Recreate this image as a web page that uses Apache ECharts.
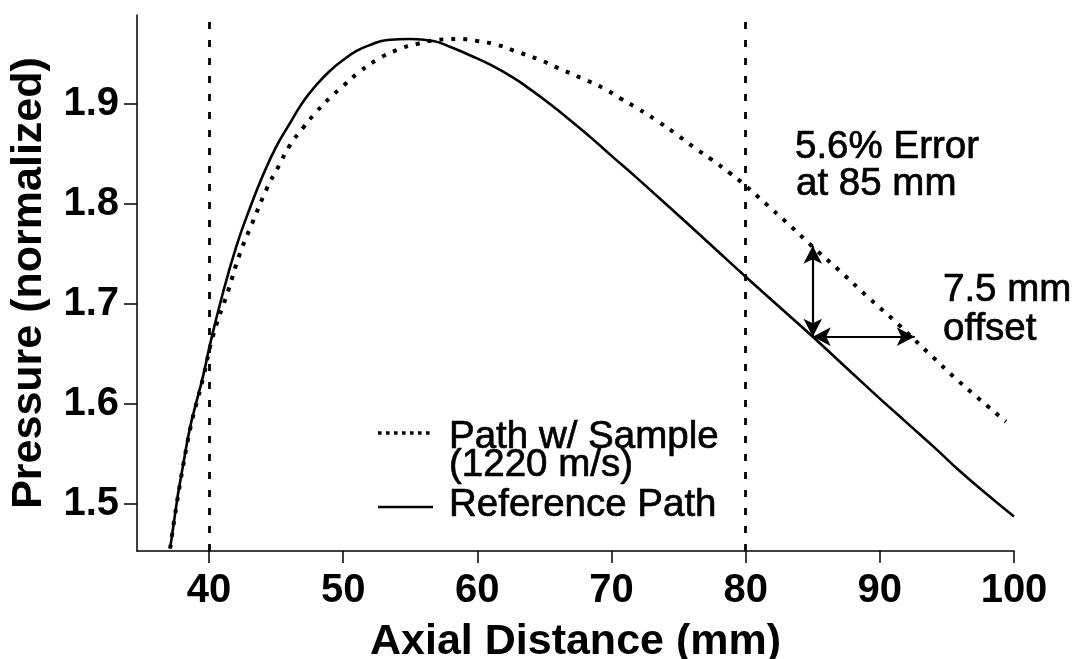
<!DOCTYPE html>
<html>
<head>
<meta charset="utf-8">
<title>Pressure vs Axial Distance</title>
<script src="https://cdn.jsdelivr.net/npm/echarts@6.0.0/dist/echarts.min.js"></script>
<style>
    html, body { margin: 0; padding: 0; background: #fff; }
    #chart { width: 1075px; height: 659px; }
</style>
</head>
<body>
<div id="chart"></div>
<script>
// axis ticks
var xTicks = [40, 50, 60, 70, 80, 90, 100]
var yTicks = [1.5, 1.6, 1.7, 1.8, 1.9]

// reference path (solid)
var refX = [37.1, 38.4, 39.6, 40.0, 40.9, 42.0, 43.0, 44.0, 45.0, 46.0, 47.0, 48.0, 49.0, 50.0, 51.0, 52.0, 53.3, 55.0, 56.7, 58.0, 59.4, 61.0, 62.7, 64.0, 65.4, 66.9, 68.4, 70.0, 71.8, 73.7, 75.6, 77.8, 80.0, 82.5, 85.0, 87.5, 90.0, 92.0, 94.0, 96.0, 98.0, 100.0]
var refY = [1.455, 1.564, 1.630, 1.655, 1.704, 1.756, 1.794, 1.828, 1.857, 1.880, 1.902, 1.919, 1.933, 1.944, 1.953, 1.959, 1.964, 1.965, 1.963, 1.957, 1.949, 1.939, 1.926, 1.914, 1.900, 1.884, 1.867, 1.848, 1.827, 1.804, 1.781, 1.754, 1.727, 1.697, 1.667, 1.636, 1.605, 1.581, 1.557, 1.532, 1.509, 1.487]

// path with sample, 1220 m/s (dotted)
var sampleX = [37.1, 38.4, 39.6, 40.3, 41.4, 42.3, 43.2, 44.3, 45.2, 46.0, 47.0, 48.0, 49.0, 50.0, 51.2, 52.5, 54.0, 55.5, 57.0, 58.5, 60.0, 61.5, 63.0, 64.5, 66.0, 67.9, 69.5, 70.6, 72.0, 73.3, 74.7, 76.1, 77.5, 78.8, 80.0, 81.5, 83.0, 85.0, 87.0, 89.0, 91.0, 92.5, 94.0, 95.5, 97.2, 99.4]
var sampleY = [1.455, 1.562, 1.628, 1.668, 1.712, 1.750, 1.780, 1.815, 1.838, 1.858, 1.876, 1.892, 1.906, 1.918, 1.932, 1.944, 1.954, 1.960, 1.964, 1.965, 1.963, 1.959, 1.952, 1.945, 1.936, 1.925, 1.915, 1.906, 1.895, 1.884, 1.871, 1.857, 1.844, 1.831, 1.818, 1.800, 1.782, 1.757, 1.733, 1.708, 1.684, 1.665, 1.646, 1.627, 1.607, 1.582]

// dashed markers and the 85 mm annotation
var markerX = [40, 80]
var errorAt = 85
var errorLow = 1.667
var errorHigh = 1.758
var offsetTo = 92.6

var font = '"Liberation Sans", Arial, Helvetica, sans-serif'

function pairs(xs, ys) {
    return xs.map(function(x, i) { return [x, ys[i]] })
}

function txt(str, x, y) {
    return {
        type: 'text',
        style: {
            text: str, x: x, y: y,
            font: '38.5px ' + font,
            fill: '#000',
            stroke: '#000',
            lineWidth: 0.7,
            textAlign: 'left',
            textVerticalAlign: 'middle'
        }
    }
}

var myChart = echarts.init(document.getElementById('chart'))

var option = {
    animation: false,
    backgroundColor: '#fff',
    grid: { left: 137, right: 61, top: 15, bottom: 108, outerBoundsMode: 'none' },
    xAxis: {
        type: 'value',
        min: 34.63,
        max: 100,
        name: 'Axial Distance (mm)',
        nameLocation: 'middle',
        nameGap: 70,
        nameTextStyle: { color: '#000', fontSize: 43, fontWeight: 'bold', fontFamily: font },
        splitLine: { show: false },
        axisLine: { lineStyle: { color: '#000', width: 1.5 } },
        axisTick: { customValues: xTicks, length: 12, lineStyle: { color: '#000', width: 1.5 } },
        axisLabel: {
            customValues: xTicks,
            margin: 20,
            color: '#000',
            fontSize: 40,
            fontWeight: 'bold',
            fontFamily: font
        }
    },
    yAxis: {
        type: 'value',
        min: 1.4525,
        max: 1.989,
        name: 'Pressure (normalized)',
        nameLocation: 'middle',
        nameGap: 86,
        nameTextStyle: { color: '#000', fontSize: 43, fontWeight: 'bold', fontFamily: font },
        splitLine: { show: false },
        axisLine: { show: true, lineStyle: { color: '#000', width: 1.5 } },
        axisTick: { show: true, customValues: yTicks, length: 13, lineStyle: { color: '#000', width: 1.5 } },
        axisLabel: {
            customValues: yTicks,
            margin: 18,
            color: '#000',
            fontSize: 40,
            fontWeight: 'bold',
            fontFamily: font,
            formatter: function(v) { return v.toFixed(1) }
        }
    },
    series: [
        {
            name: 'Path w/ Sample',
            type: 'line',
            data: pairs(sampleX, sampleY),
            showSymbol: false,
            smooth: 0.5,
            lineStyle: { color: '#000', width: 4, type: [4, 8], cap: 'butt' },
            markLine: {
                silent: true,
                symbol: 'none',
                label: { show: false },
                lineStyle: { color: '#000', width: 2.8, type: [7, 11] },
                data: markerX.map(function(v) { return { xAxis: v } })
            }
        },
        {
            name: 'Reference Path',
            type: 'line',
            data: pairs(refX, refY),
            showSymbol: false,
            smooth: 0.5,
            lineStyle: { color: '#000', width: 2.6 },
            markLine: {
                silent: true,
                symbol: ['arrow', 'arrow'],
                symbolSize: [14, 18],
                label: { show: false },
                lineStyle: { color: '#000', width: 2.2, type: 'solid' },
                data: [
                    [{ coord: [errorAt, errorLow] }, { coord: [errorAt, errorHigh] }],
                    [{ coord: [errorAt, errorLow] }, { coord: [offsetTo, errorLow] }]
                ]
            }
        }
    ],
    graphic: [
        // legend
        { type: 'line', shape: { x1: 378, y1: 433, x2: 431, y2: 433 }, style: { stroke: '#000', lineWidth: 3.5, lineDash: [3.5, 4.5] } },
        { type: 'line', shape: { x1: 378, y1: 507, x2: 433, y2: 507 }, style: { stroke: '#000', lineWidth: 2.6 } },
        txt('Path w/ Sample', 449, 437),
        txt('(1220 m/s)', 449, 465),
        txt('Reference Path', 449, 505),
        // annotations
        txt('5.6% Error', 795, 147),
        txt('at 85 mm', 796, 184),
        txt('7.5 mm', 943, 290),
        txt('offset', 943, 329)
    ]
}

myChart.setOption(option)
</script>
</body>
</html>
